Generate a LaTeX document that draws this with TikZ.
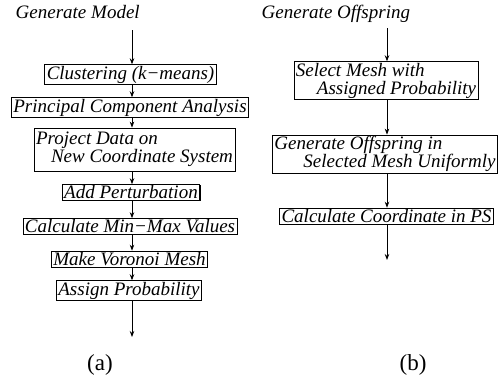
\documentclass[tikz,border=0pt]{standalone}
\usepackage{fontspec}
\setmainfont{Liberation Serif}[ItalicFont={Liberation Serif Italic}]
\usetikzlibrary{arrows.meta,shadows}

\begin{document}
\begin{tikzpicture}[x=1pt, y=-1pt, >={Stealth[length=6pt,width=4.5pt]}, line width=0.8pt,
  font=\fontsize{19}{18}\selectfont\itshape,
  box/.style={draw, fill=white, inner xsep=2pt, inner ysep=1.2pt, align=left,
    drop shadow={shadow xshift=0.8pt, shadow yshift=-0.8pt, opacity=1, fill=black}},
  sublabel/.style={font=\fontsize{23}{23}\selectfont\upshape}]

  \useasboundingbox (0,0) rectangle (503,383);

  % Define coordinates for nodes
  \node[anchor=base west] (gm) at (12,18) {Generate Model};
  \coordinate (a0) at (132,30);
  \node[box] (c1) at (130.5,74.5) {Clustering (k−means)};
  \node[box] (c2) at (130,107.5) {Principal Component Analysis};
  \node[box, minimum height=43pt] (c3) at (134.5,149.5) {Project Data on\\\hspace{15pt}New Coordinate System};
  \node[box] (c4) at (131,192.5) {Add Perturbation};
  \node[box] (c5) at (130,226.5) {Calculate Min−Max Values};
  \node[box] (c6) at (129.5,259) {Make Voronoi Mesh};
  \node[box] (c7) at (129,290.5) {Assign Probability};
  \coordinate (a1) at (132,337);
  \node[sublabel] (la) at (100,365) {(a)};

  \node[anchor=base west] (go) at (258,18) {Generate Offspring};
  \coordinate (b0) at (387,28);
  \node[box, minimum height=37pt] (d1) at (386,80.5) {Select Mesh with\\\hspace{21pt}Assigned Probability};
  \node[box, minimum height=38pt] (d2) at (385,154) {Generate Offspring in\\\hspace{29pt}Selected Mesh Uniformly};
  \node[box] (d3) at (386.5,216) {Calculate Coordinate in PS};
  \coordinate (b1) at (387,260);
  \node[sublabel] (lb) at (413,365) {(b)};

  % Draw arrows between nodes
  \draw[->] (a0) -- (c1.north -| a0);
  \draw[->] (c1.south -| a0) -- (c2.north -| a0);
  \draw[->] (c2.south -| a0) -- (c3.north -| a0);
  \draw[->] (c3.south -| a0) -- (c4.north -| a0);
  \draw[->] (c4.south -| a0) -- (c5.north -| a0);
  \draw[->] (c5.south -| a0) -- (c6.north -| a0);
  \draw[->] (c6.south -| a0) -- (c7.north -| a0);
  \draw[->] (c7.south -| a0) -- (a1);

  \draw[->] (b0) -- (d1.north -| b0);
  \draw[->] (d1.south -| b0) -- (d2.north -| b0);
  \draw[->] (d2.south -| b0) -- (d3.north -| b0);
  \draw[->] (d3.south -| b0) -- (b1);
\end{tikzpicture}
\end{document}
